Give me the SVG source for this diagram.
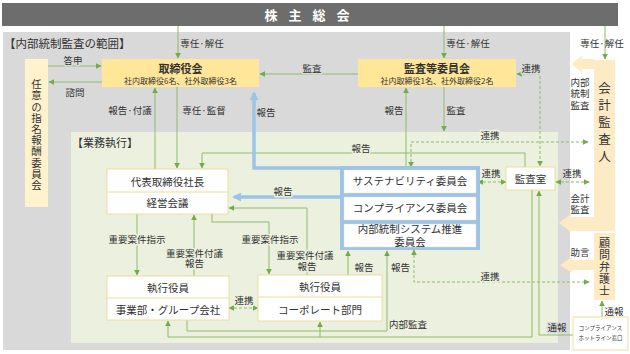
<svg xmlns="http://www.w3.org/2000/svg" width="630" height="354" viewBox="0 0 630 354">
<style>
text{font-family:"Noto Sans CJK JP","Noto Sans",sans-serif;fill:#333}
.nt{font-size:10.5px;text-anchor:middle}
.nb{font-size:11px;font-weight:bold;text-anchor:middle}
.sub{font-size:8px;text-anchor:middle}
.vt{writing-mode:vertical-rl;text-orientation:upright}
.lb{font-size:9.5px;text-anchor:middle}
.hg{stroke:#ebf1de;stroke-width:3;paint-order:stroke;stroke-linejoin:round}
.hy{stroke:#d9d9d9;stroke-width:3;paint-order:stroke;stroke-linejoin:round}
.ln{fill:none;stroke:#8dbb6b;stroke-width:1}
.ds{fill:none;stroke:#8dbb6b;stroke-width:1;stroke-dasharray:3 2}
.bl{fill:none;stroke:#9dc3e6;stroke-width:3.5}
.wb{fill:#fff;stroke:#eedc9c;stroke-width:1}
.cr{fill:#fdebc6}
</style>
<defs>
<marker id="g" viewBox="0 0 10 10" refX="9" refY="5" markerWidth="6" markerHeight="6" markerUnits="userSpaceOnUse" orient="auto-start-reverse"><path d="M0,0 L10,5 L0,10z" fill="#70ad47"/></marker>
<marker id="b" viewBox="0 0 10 10" refX="8" refY="5" markerWidth="9" markerHeight="9" markerUnits="userSpaceOnUse" orient="auto"><path d="M0,0 L10,5 L0,10z" fill="#9dc3e6"/></marker>
</defs>
<rect width="630" height="354" fill="#fff"/>
<g id="regions">
<rect x="3" y="32" width="567" height="318" fill="#d9d9d9"/>
<text x="4" y="48" style="font-size:11.5px">【内部統制監査の範囲】</text>
<rect x="71" y="132" width="487" height="211" fill="#ebf1de"/>
<text x="72" y="147" style="font-size:11px">【業務執行】</text>
</g>
<g id="shareholders">
<rect x="2" y="3" width="616" height="23" fill="#6d6d6d"/>
<text x="309" y="19.5" style="font-size:13px;font-weight:bold;fill:#fff;letter-spacing:4px;text-anchor:middle">株 主 総 会</text>
</g>
<g id="connectors">
<path class="ln" d="M178,26 V58" marker-end="url(#g)"/>
<path class="ln" d="M444,26 V58" marker-end="url(#g)"/>
<path class="ln" d="M605,26 V59" marker-end="url(#g)"/>
<path class="ln" d="M48,66 H101" marker-end="url(#g)"/>
<path class="ln" d="M102,82 H49" marker-end="url(#g)"/>
<path class="ln" d="M358,74 H260" marker-end="url(#g)"/>
<path class="ln" d="M406,167 V88" marker-end="url(#g)"/>
<path class="ln" d="M444,87 V131" marker-end="url(#g)"/>
<path class="ln" d="M155,169 V88" marker-end="url(#g)"/>
<path class="ln" d="M177,87 V168" marker-end="url(#g)"/>
<path class="ln" d="M525,167 V153 H202 V168" marker-end="url(#g)"/>
<path class="ln" d="M137,214 V275" marker-end="url(#g)"/>
<path class="ln" d="M194,276 V215" marker-end="url(#g)"/>
<path class="ln" d="M212,214 V222 H269 V274" marker-end="url(#g)"/>
<path class="ln" d="M307,275 V208 H229" marker-end="url(#g)"/>
<path class="ln" d="M348,275 V251" marker-end="url(#g)"/>
<path class="ln" d="M187,320 V331 H387 V251" marker-end="url(#g)"/>
<path class="ln" d="M532,190 V337 H168 V321" marker-end="url(#g)"/>
<path class="ln" d="M320,337 V322" marker-end="url(#g)"/>
<path class="ln" d="M573,335 H539 V191" marker-end="url(#g)"/>
<path class="ln" d="M602,317 V301" marker-end="url(#g)"/>
<path class="ds" d="M517,74 H540 V166" marker-start="url(#g)" marker-end="url(#g)"/>
<path class="ds" d="M411,167 V142 H588" marker-start="url(#g)" marker-end="url(#g)"/>
<path class="ds" d="M478,182 H506" marker-start="url(#g)" marker-end="url(#g)"/>
<path class="ds" d="M556,182 H589" marker-start="url(#g)" marker-end="url(#g)"/>
<path class="ds" d="M229,308 H258" marker-start="url(#g)" marker-end="url(#g)"/>
<path class="ds" d="M414,250 V282 H589" marker-start="url(#g)" marker-end="url(#g)"/>
<path class="bl" d="M342,168 H254 V93" marker-end="url(#b)"/>
<path class="bl" d="M342,197 H234" marker-end="url(#b)"/>
</g>
<g id="nomination">
<rect x="25" y="59" width="23" height="148" fill="#fff2cc"/>
<text class="vt" x="36.5" y="79" style="font-size:10.5px;letter-spacing:0.7px">任意の指名報酬委員会</text>
</g>
<g id="board">
<rect x="102" y="59" width="157" height="28" fill="#ffe699"/>
<text class="nb" x="180.5" y="73">取締役会</text>
<text class="sub" x="180.5" y="84">社内取締役6名、社外取締役3名</text>
</g>
<g id="auditcommittee">
<rect x="358" y="59" width="158" height="28" fill="#ffe699"/>
<text class="nb" x="437" y="73">監査等委員会</text>
<text class="sub" x="437" y="84">社内取締役1名、社外取締役2名</text>
</g>
<g id="accountingauditor">
<rect class="cr" x="594" y="60" width="21" height="171"/>
<polygon class="cr" points="594,59 582,59 582,55 572,64 582,73 582,69 594,69"/>
<polygon class="cr" points="594,217 571,217 571,214 559,223 571,232 571,231 594,231"/>
<text class="vt" x="604.5" y="82" style="font-size:12.5px;letter-spacing:4.5px">会計監査人</text>
</g>
<g id="lawyer">
<rect class="cr" x="594" y="233" width="21" height="67"/>
<polygon class="cr" points="594,260 572,260 572,257 560,265 572,273 572,270 594,270"/>
<text class="vt" x="604.5" y="237.5" style="font-size:11px;letter-spacing:1px">顧問弁護士</text>
</g>
<g id="hotline">
<rect x="573" y="317" width="55" height="33" fill="#fff" stroke="#f2dc9b"/>
<text x="600.5" y="329.5" style="font-size:5.5px;text-anchor:middle">コンプライアンス</text>
<text x="600.5" y="339.5" style="font-size:5.5px;text-anchor:middle">ホットライン窓口</text>
</g>
<g id="president">
<rect class="wb" x="107" y="169" width="121" height="45"/>
<line x1="107" y1="192" x2="228" y2="192" stroke="#eedc9c"/>
<text class="nt" x="167.5" y="186">代表取締役社長</text>
<text class="nt" x="167.5" y="207">経営会議</text>
</g>
<g id="exec-business">
<rect class="wb" x="107" y="276" width="122" height="44"/>
<line x1="107" y1="298" x2="229" y2="298" stroke="#eedc9c"/>
<text class="nt" x="168" y="292">執行役員</text>
<text class="nt" x="168" y="314">事業部・グループ会社</text>
</g>
<g id="exec-corporate">
<rect class="wb" x="258" y="275" width="124" height="46"/>
<line x1="258" y1="297" x2="382" y2="297" stroke="#eedc9c"/>
<text class="nt" x="320" y="291">執行役員</text>
<text class="nt" x="320" y="314">コーポレート部門</text>
</g>
<g id="committees">
<rect x="340" y="166" width="140" height="84" fill="#9dc3e6"/>
<rect x="344" y="170" width="132" height="23" fill="#fff" stroke="#e0dcc0" stroke-width="0.5"/>
<rect x="344" y="197" width="132" height="23" fill="#fff" stroke="#e0dcc0" stroke-width="0.5"/>
<rect x="344" y="224" width="132" height="23" fill="#fff" stroke="#e0dcc0" stroke-width="0.5"/>
<text class="nt" x="410" y="185">サステナビリティ委員会</text>
<text class="nt" x="410" y="212">コンプライアンス委員会</text>
<text class="nt" x="410" y="233">内部統制システム推進</text>
<text class="nt" x="410" y="245.5">委員会</text>
</g>
<g id="auditoffice">
<rect class="wb" x="506" y="167" width="49" height="23"/>
<text class="nt" x="530.5" y="182.5">監査室</text>
</g>
<g id="connector-labels">
<text class="lb hy" x="202" y="46.5">専任·解任</text>
<text class="lb hy" x="468" y="46.5">専任·解任</text>
<text class="lb" x="602" y="46.5">専任·解任</text>
<text class="lb hy" x="73" y="63.5">答申</text>
<text class="lb hy" x="75" y="95.5">諮問</text>
<text class="lb hy" x="312" y="71.5">監査</text>
<text class="lb hy" x="531" y="71.5">連携</text>
<text class="lb hy" x="130" y="113.5">報告·付議</text>
<text class="lb hy" x="204" y="113.5">専任·監督</text>
<text class="lb hy" x="266" y="115.5">報告</text>
<text class="lb hy" x="394" y="113.5">報告</text>
<text class="lb hy" x="456" y="113.5">監査</text>
<text class="lb"><tspan x="580" y="85.5">内部</tspan><tspan x="580" y="97">統制</tspan><tspan x="580" y="108.5">監査</tspan></text>
<text class="lb hg" x="490" y="138.5">連携</text>
<text class="lb hg" x="361" y="151.5">報告</text>
<text class="lb hg" x="283" y="194.5">報告</text>
<text class="lb hg" x="491" y="176.5">連携</text>
<text class="lb" x="572" y="176.5">連携</text>
<text class="lb"><tspan x="580" y="201.5">会計</tspan><tspan x="580" y="213">監査</tspan></text>
<text class="lb hg" x="137" y="242.5">重要案件指示</text>
<text class="lb hg" x="270" y="242.5">重要案件指示</text>
<text class="lb hg" x="194.5" y="256.5">重要案件付議</text>
<text class="lb hg" x="194.5" y="267">報告</text>
<text class="lb hg" x="305" y="258.5">重要案件付議</text>
<text class="lb hg" x="307" y="270">報告</text>
<text class="lb hg" x="364" y="270.5">報告</text>
<text class="lb hg" x="400.5" y="270.5">報告</text>
<text class="lb hg" x="490" y="280">連携</text>
<text class="lb hg" x="244" y="304">連携</text>
<text class="lb hg" x="408" y="327.5">内部監査</text>
<text class="lb" x="580" y="255.5">助言</text>
<text class="lb" x="614" y="315">通報</text>
<text class="lb hy" x="557" y="330.5">通報</text>
</g>
</svg>
